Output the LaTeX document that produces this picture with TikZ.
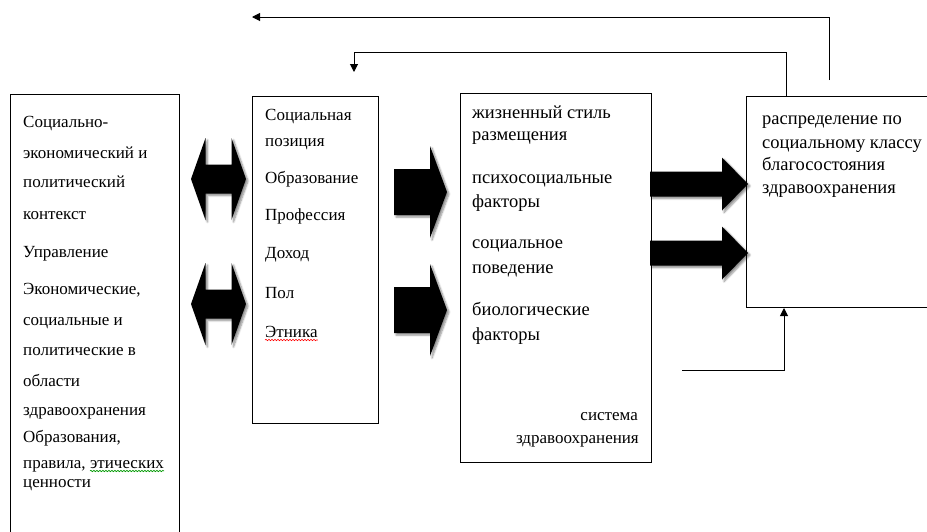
\documentclass[tikz,border=0pt]{standalone}
\usepackage{fontspec}
\setmainfont{Liberation Serif}
\usetikzlibrary{positioning, arrows.meta, calc, shadows.blur, decorations.pathmorphing}

\tikzset{
    box/.style={draw=black, line width=1pt, anchor=north west, inner sep=0pt},
    line/.style={draw=black, line width=1pt},
    tip/.style={-{Triangle[length=8pt,width=8pt]}},
    label/.style={anchor=base west, inner sep=0pt, font=\fontsize{17}{20}\selectfont},
    biglabel/.style={label, font=\fontsize{18.5}{21}\selectfont},
    blockarrow/.style={fill=black, blur shadow={shadow xshift=2pt, shadow yshift=-2pt, shadow blur steps=6, shadow opacity=45}},
    spell/.style={decorate, decoration={snake, amplitude=0.7pt, segment length=3pt}, line width=0.6pt}
}

\begin{document}
\begin{tikzpicture}[x=1pt, y=-1pt]
    \useasboundingbox (0,0) rectangle (927,531);

    % boxes
    \node[box, minimum width=169pt, minimum height=441pt] (context) at (10,94) {};
    \node[box, minimum width=126pt, minimum height=327pt] (position) at (252,96) {};
    \node[box, minimum width=191pt, minimum height=369pt] (factors) at (460,93) {};
    \node[box, minimum width=189pt, minimum height=211pt] (health) at (746,96) {};

    % text of the left box
    \foreach \i/\y/\txt in {
        1/127/Социально-,
        2/158/экономический и,
        3/187/политический,
        4/219/контекст,
        5/257/Управление,
        6/294/{Экономические,},
        7/325/социальные и,
        8/355/политические в,
        9/386/области,
        10/415/здравоохранения,
        11/442/{Образования,},
        13/487/ценности}{
        \node[label] (ctx\i) at (23,\y) {\txt};
    }
    \node[label] (ctx12) at (23,468) {правила,};
    \node[label, right=4pt of ctx12.base east, anchor=base west] (ctx12b) {этических};

    % text of the second box
    \foreach \i/\y/\txt in {
        1/120/Социальная,
        2/146/позиция,
        3/183/Образование,
        4/220/Профессия,
        5/258/Доход,
        6/298/Пол,
        7/337/Этника}{
        \node[label] (pos\i) at (265,\y) {\txt};
    }

    % text of the third box
    \foreach \i/\y/\txt in {
        1/118/жизненный стиль,
        2/140/размещения,
        3/183/психосоциальные,
        4/207/факторы,
        5/248/социальное,
        6/273/поведение,
        7/315/биологические,
        8/340/факторы}{
        \node[biglabel] (fac\i) at (472,\y) {\txt};
    }
    \node[label, anchor=base east] (sys1) at (638,420) {система};
    \node[label, anchor=base east] (sys2) at (639,443) {здравоохранения};

    % text of the right box
    \foreach \i/\y/\txt in {
        1/124/распределение по,
        2/148/социальному классу,
        3/170/благосостояния,
        4/193/здравоохранения}{
        \node[biglabel] (hlt\i) at (762,\y) {\txt};
    }

    % spelling marks
    \draw[spell, red] ([yshift=-3pt]pos7.base west) -- ([yshift=-3pt]pos7.base east);
    \draw[spell, green!60!black] ([yshift=-3pt]ctx12b.base west) -- ([yshift=-3pt]ctx12b.base east);

    % double block arrows
    \foreach \cy in {179,304}{
        \fill[blockarrow, shift={(218.5,\cy)}]
            (-27.5,0) -- (-13,-41) -- (-13,-14.5) -- (13,-14.5) -- (13,-41) -- (27.5,0)
            -- (13,41) -- (13,14.5) -- (-13,14.5) -- (-13,41) -- cycle;
    }

    % single block arrows
    \foreach \x/\cy/\l/\h/\s/\w in {
        394/192/36/17/23/46,
        394/310/36/17/23/46,
        650/184/72/26/12.5/26.5,
        650/253/72/26/12.5/26.5}{
        \fill[blockarrow, shift={(\x,\cy)}]
            (0,-\s) -- (\l,-\s) -- (\l,-\w) -- (\l+\h,0) -- (\l,\w) -- (\l,\s) -- (0,\s) -- cycle;
    }

    % feedback lines
    \coordinate (topstart) at (829,80);
    \coordinate (topend) at (252,17);
    \draw[line, tip] (topstart) |- (topend);

    \coordinate (backend) at (354,72);
    \draw[line, tip] ([xshift=40pt]health.north west) -- ++(0,-44) -| (backend);

    \coordinate (loopstart) at (682,370);
    \draw[line, tip] (loopstart) -| ([xshift=38pt]health.south west);
\end{tikzpicture}
\end{document}
